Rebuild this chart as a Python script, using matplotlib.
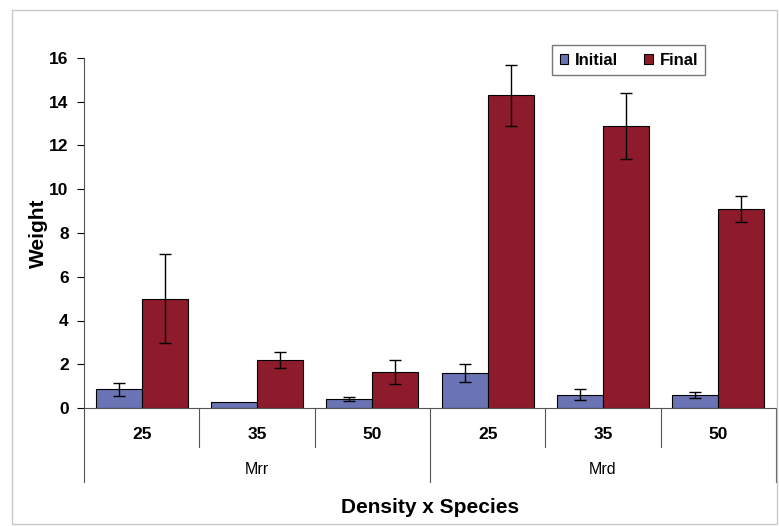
import matplotlib.pyplot as plt
import matplotlib.patches as mpatches
import numpy as np

plt.rcParams['font.family'] = ['Liberation Sans', 'DejaVu Sans']

densities = ['25', '35', '50', '25', '35', '50']
species = ['Mrr', 'Mrd']
initial = [0.85, 0.28, 0.42, 1.6, 0.6, 0.6]
initial_err = [0.3, np.nan, 0.1, 0.4, 0.25, 0.12]
final = [5.0, 2.2, 1.65, 14.3, 12.9, 9.1]
final_err = [2.05, 0.38, 0.55, 1.4, 1.5, 0.6]

c_init = '#6a74b4'
c_final = '#8e1b2b'

fig = plt.figure(figsize=(7.79, 5.26), dpi=100)
# outer chart border
fig.patches.append(mpatches.Rectangle((12/779, 2/526), 765/779, 514/526, transform=fig.transFigure,
                                      fill=False, edgecolor='#c8c8c8', lw=1))
ax = fig.add_axes([84/779, 118/526, 692/779, 350/526])

x = np.arange(len(densities))
w = 0.4
ax.bar(x - w/2, initial, w, color=c_init, edgecolor='black', lw=0.8, label='Initial')
ax.bar(x + w/2, final, w, color=c_final, edgecolor='black', lw=0.8, label='Final')
ax.errorbar(x - w/2, initial, yerr=initial_err, fmt='none', ecolor='black', lw=1, capsize=4, capthick=1)
ax.errorbar(x + w/2, final, yerr=final_err, fmt='none', ecolor='black', lw=1, capsize=4, capthick=1)

ax.set_xlim(-0.5, len(densities) - 0.5)
ax.set_ylim(0, 16)
ax.set_yticks(range(0, 17, 2))
ax.tick_params(axis='y', direction='out', length=5, labelsize=12.5, pad=6)
for t in ax.get_yticklabels():
    t.set_fontweight('bold')
ax.set_xticks([])
for s in ['top', 'right']:
    ax.spines[s].set_visible(False)
ax.spines['left'].set_color('#555555')
ax.spines['bottom'].set_color('#555555')

# category axis with two levels
trans = ax.get_xaxis_transform()
for i, d in enumerate(densities):
    ax.text(i, -0.077, d, transform=trans, ha='center', va='center', fontsize=12.5, fontweight='bold')
for b in np.arange(-0.5, len(densities), 1.0):
    depth = -0.211 if b in (-0.5, 2.5, 5.5) else -0.111
    ax.plot([b, b], [0, depth], transform=trans, color='#555555', lw=0.8, clip_on=False)
for j, sp in enumerate(species):
    ax.text(1 + 3*j, -0.177, sp, transform=trans, ha='center', va='center', fontsize=11.5)

ax.set_ylabel('Weight', fontsize=15, fontweight='bold', labelpad=1)
ax.text(0.5, -0.283, 'Density x Species', transform=ax.transAxes, ha='center', va='center',
        fontsize=15, fontweight='bold')

leg = ax.legend(loc='upper right', bbox_to_anchor=(0.91, 1.06), ncol=2, fontsize=12,
                frameon=True, fancybox=False, edgecolor='#555555', handlelength=0.5,
                handleheight=0.5, columnspacing=1.6, handletextpad=0.4, borderpad=0.45)
for t in leg.get_texts():
    t.set_fontweight('bold')

plt.savefig('out.png', dpi=100)
